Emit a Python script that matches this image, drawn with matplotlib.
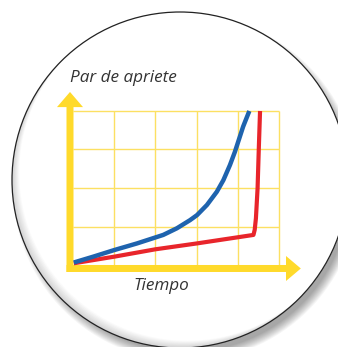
import numpy as np
import matplotlib.pyplot as plt
from matplotlib.patches import Circle, Polygon

# curvas (tiempo en cuadros, par en cuadros)
blue_t = [0.02, 0.49, 1.00, 1.55, 1.87, 2.19, 2.52, 2.84, 3.01, 3.25, 3.49,
          3.65, 3.81, 3.93, 4.01, 4.13, 4.28]
blue_par = [0.09, 0.24, 0.41, 0.58, 0.69, 0.80, 0.97, 1.18, 1.31, 1.57, 1.91,
            2.21, 2.60, 2.94, 3.20, 3.59, 3.99]

red_t = [0.02, 1.0, 2.0, 3.0, 4.38, 4.41, 4.44, 4.48, 4.51, 4.54]
red_par = [0.07, 0.24, 0.43, 0.58, 0.80, 0.93, 1.23, 2.00, 3.03, 3.99]

x_grid = [1, 2, 3, 4, 5]
y_grid = [1, 2, 3, 4]

YELLOW = '#FFDA2B'
GRID = '#FCE062'
BLUE = '#1E63AE'
RED = '#E8252B'
TEXT = '#333333'

fig = plt.figure(figsize=(3.38, 3.47), dpi=100)

# fondo: círculo con sombra (coordenadas en píxeles)
bg = fig.add_axes([0, 0, 1, 1])
bg.set_xlim(0, 338)
bg.set_ylim(347, 0)
bg.axis('off')

cx, cy, r = 180, 180, 168
for i in range(10):
    bg.add_patch(Circle((cx + 6, cy + 8), r + 5 - i, color='#000000', alpha=0.04, lw=0))

disk = Circle((cx, cy), r, facecolor='#d2d2d5', edgecolor='none')
bg.add_patch(disk)
for k in range(8):
    g = 0.83 + 0.17 * (k + 1) / 8
    c = Circle((cx + 0.9 * (k + 1), cy - 0.9 * (k + 1)), r, facecolor=(g, g, g), edgecolor='none')
    bg.add_patch(c)
    c.set_clip_path(disk)
bg.add_patch(Circle((cx, cy), r, facecolor='none', edgecolor='#222222', lw=0.9))

# gráfico
ax = fig.add_axes([73 / 338, 81 / 347, 206 / 338, 155.4 / 347])
ax.set_xlim(0, 5)
ax.set_ylim(0, 4)
ax.axis('off')

ax.vlines(x_grid, 0, 4, color=GRID, lw=1.0, clip_on=False, zorder=1)
ax.hlines(y_grid, 0, 5, color=GRID, lw=1.0, clip_on=False, zorder=1)

# ejes con flecha
y_arrow = [(-0.158, -0.154), (0.012, -0.154), (0.012, 4.09), (0.243, 4.09),
           (-0.073, 4.48), (-0.389, 4.09), (-0.158, 4.09)]
x_arrow = [(-0.158, 0.026), (5.17, 0.026), (5.17, 0.258), (5.53, -0.064),
           (5.17, -0.386), (5.17, -0.154), (-0.158, -0.154)]
for pts in (y_arrow, x_arrow):
    ax.add_patch(Polygon(pts, closed=True, facecolor=YELLOW, edgecolor='none',
                         clip_on=False, zorder=2))

ax.plot(red_t, red_par, color=RED, lw=3.0, solid_joinstyle='round',
        solid_capstyle='butt', clip_on=False, zorder=3)
ax.plot(blue_t, blue_par, color=BLUE, lw=3.2, solid_joinstyle='round',
        solid_capstyle='butt', clip_on=False, zorder=4)

ax.text(-0.07, 4.74, 'Par de apriete', fontsize=12.3, style='italic',
        family='Open Sans', color=TEXT, ha='left', va='baseline')
ax.text(1.456, -0.63, 'Tiempo', fontsize=12.3, style='italic',
        family='Open Sans', color=TEXT, ha='left', va='baseline')

fig.savefig('out.png', dpi=100)
